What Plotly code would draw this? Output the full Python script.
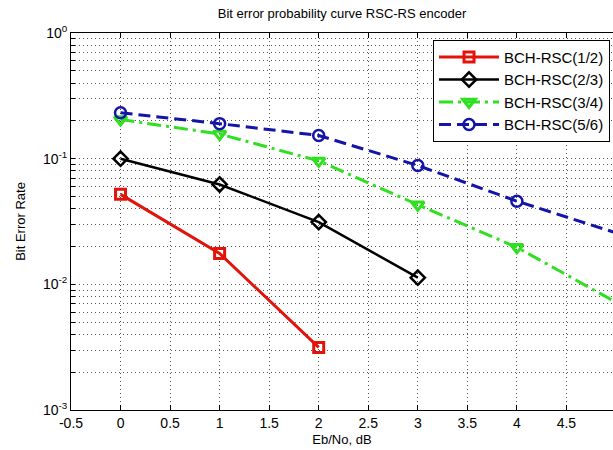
import plotly.graph_objects as go

# ---- data ----
ebno = [0, 1, 2, 3, 4, 5]
ber_12 = [0.052, 0.0176, 0.00315]
ber_23 = [0.100, 0.0623, 0.0313, 0.0113]
ber_34 = [0.205, 0.157, 0.096, 0.0430, 0.0197, 0.0072]
ber_56 = [0.232, 0.190, 0.153, 0.0883, 0.0459, 0.0257]

names = ["BCH-RSC(1/2)", "BCH-RSC(2/3)", "BCH-RSC(3/4)", "BCH-RSC(5/6)"]

x_ticks = [-0.5, 0, 0.5, 1, 1.5, 2, 2.5, 3, 3.5, 4, 4.5, 5]
x_ticktext = ["-0.5", "0", "0.5", "1", "1.5", "2", "2.5", "3", "3.5", "4", "4.5", "5"]

y_tickvals = []
y_ticktext = []
for e in [-3, -2, -1]:
    for m in range(1, 10):
        y_tickvals.append(m * 10 ** e)
        y_ticktext.append(f"10<sup>{e}</sup>" if m == 1 else " ")
y_tickvals.append(1.0)
y_ticktext.append("10<sup>0</sup>")

fig = go.Figure()

fig.add_trace(go.Scatter(
    x=ebno[:len(ber_12)], y=ber_12, name=names[0], mode="lines+markers",
    line=dict(color="#E3120B", width=3),
    marker=dict(symbol="square-open", size=10, color="#E3120B", line=dict(width=3, color="#E3120B")),
    cliponaxis=False))
fig.add_trace(go.Scatter(
    x=ebno[:len(ber_23)], y=ber_23, name=names[1], mode="lines+markers",
    line=dict(color="black", width=2.5),
    marker=dict(symbol="diamond-open", size=11, color="black", line=dict(width=2.5, color="black")),
    cliponaxis=False))
fig.add_trace(go.Scatter(
    x=ebno[:len(ber_34)], y=ber_34, name=names[2], mode="lines+markers",
    line=dict(color="#2EE01F", width=3, dash="14px,5px,3px,5px"),
    marker=dict(symbol="triangle-down-open", size=11, color="#2EE01F", line=dict(width=3, color="#2EE01F")),
    cliponaxis=False))
fig.add_trace(go.Scatter(
    x=ebno[:len(ber_56)], y=ber_56, name=names[3], mode="lines+markers",
    line=dict(color="#1414A8", width=3, dash="12px,6px"),
    marker=dict(symbol="circle-open", size=11, color="#1414A8", line=dict(width=2.5, color="#1414A8")),
    cliponaxis=False))

font_family = "Liberation Sans, Arial, sans-serif"

fig.update_layout(
    width=613, height=450,
    margin=dict(l=71, r=0, t=33, b=40),
    paper_bgcolor="white", plot_bgcolor="white",
    font=dict(family=font_family, size=13, color="black"),
    title=dict(text="Bit error probability curve RSC-RS encoder", x=0.5, xref="paper",
               y=0.98, yref="container", yanchor="top",
               font=dict(size=13, family=font_family, color="black")),
    showlegend=True,
    legend=dict(x=0.9945, y=0.982, xanchor="right", yanchor="top",
                bgcolor="white", bordercolor="black", borderwidth=1,
                font=dict(size=15, family=font_family, color="black"),
                itemwidth=60, tracegroupgap=0),
    xaxis=dict(
        range=[-0.5, 4.97], tickmode="array", tickvals=x_ticks, ticktext=x_ticktext,
        ticks="inside", ticklen=5, tickcolor="black", showline=True, linecolor="black",
        linewidth=1, mirror="ticks", showgrid=True, gridcolor="#555555", griddash="1px,3px",
        gridwidth=1, zeroline=False, tickfont=dict(size=14),
        title=dict(text="Eb/No, dB", font=dict(size=13), standoff=5)),
    yaxis=dict(
        type="log", range=[-3, 0], tickmode="array", tickvals=y_tickvals, ticktext=y_ticktext,
        ticks="inside", ticklen=4, tickcolor="black", showline=True, linecolor="black",
        linewidth=1, mirror=False, showgrid=True, gridcolor="#555555", griddash="1px,3px",
        gridwidth=1, zeroline=False, tickfont=dict(size=14),
        title=dict(text="Bit Error Rate", font=dict(size=13), standoff=14)),
)

fig.write_html("out.html", config={"displayModeBar": False},
               post_script="document.body.style.margin='0px';document.body.style.overflow='hidden';")
